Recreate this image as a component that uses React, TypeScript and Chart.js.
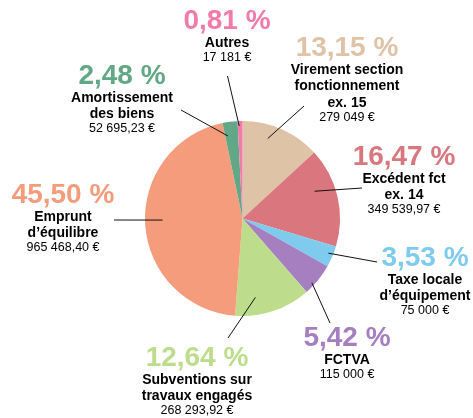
import React, { useEffect, useRef } from "react";
import { Chart, registerables } from "chart.js";

Chart.register(...registerables);

const categories: string[][] = [
  ["Virement section", "fonctionnement", "ex. 15"],
  ["Excédent fct", "ex. 14"],
  ["Taxe locale", "d’équipement"],
  ["FCTVA"],
  ["Subventions sur", "travaux engagés"],
  ["Emprunt", "d’équilibre"],
  ["Amortissement", "des biens"],
  ["Autres"],
];
const values: number[] = [279049, 349539.97, 75000, 115000, 268293.92, 965468.4, 52695.23, 17181];
const percentLabels: string[] = ["13,15 %", "16,47 %", "3,53 %", "5,42 %", "12,64 %", "45,50 %", "2,48 %", "0,81 %"];
const amountLabels: string[] = ["279 049 €", "349 539,97 €", "75 000 €", "115 000 €", "268 293,92 €", "965 468,40 €", "52 695,23 €", "17 181 €"];

const colors = ["#DEC3A6", "#D9767E", "#7FCBEE", "#A57FC0", "#BDDD8D", "#F49C7C", "#62A886", "#F27BAB"];

// label layout: text anchor (center x, percent line center y), leader end point,
// leader start as fraction along slice (t) and fraction of radius (f)
const labelLayout = [
  { x: 347, y: 48, ex: 304, ey: 106, t: 0.37, f: 0.86 },
  { x: 404, y: 157, ex: 362, ey: 188, t: 0.37, f: 0.79 },
  { x: 425, y: 258, ex: 377, ey: 262, t: 0.42, f: 0.95 },
  { x: 347, y: 338, ex: 330, ey: 323, t: 0.69, f: 0.97 },
  { x: 197, y: 358, ex: 228, ey: 338, t: 0.7, f: 0.82 },
  { x: 63, y: 195, ex: 114, ey: 220, t: 0.516, f: 0.82 },
  { x: 122, y: 76, ex: 181, ey: 110, t: 0.2, f: 0.86 },
  { x: 227, y: 21, ex: 227.5, ey: 76, t: 0.3, f: 0.95 },
];

const FONT = '"Liberation Sans", Arial, Helvetica, sans-serif';

const labelPlugin = {
  id: "outerLabels",
  afterDraw(chart: any) {
    const ctx = chart.ctx as CanvasRenderingContext2D;
    const meta = chart.getDatasetMeta(0);
    meta.data.forEach((arc: any, i: number) => {
      const p = arc.getProps(["x", "y", "startAngle", "endAngle", "outerRadius"], true);
      const L = labelLayout[i];
      const a = p.startAngle + (p.endAngle - p.startAngle) * L.t;
      const r = p.outerRadius * L.f;
      const sx = p.x + Math.cos(a) * r;
      const sy = p.y + Math.sin(a) * r;
      ctx.save();
      ctx.strokeStyle = "#111";
      ctx.lineWidth = 1;
      ctx.beginPath();
      ctx.moveTo(sx, sy);
      ctx.lineTo(L.ex, L.ey);
      ctx.stroke();

      ctx.textAlign = "center";
      ctx.textBaseline = "middle";
      ctx.fillStyle = colors[i];
      ctx.font = `bold 28px ${FONT}`;
      ctx.fillText(percentLabels[i], L.x, L.y);
      ctx.fillStyle = "#000";
      ctx.font = `bold 14px ${FONT}`;
      let yy = L.y + 22;
      categories[i].forEach((line) => {
        ctx.fillText(line, L.x, yy);
        yy += 16.5;
      });
      yy -= 2;
      ctx.font = `12.5px ${FONT}`;
      ctx.fillText(amountLabels[i], L.x, yy);
      ctx.restore();
    });
  },
};

export default function App() {
  const ref = useRef<HTMLCanvasElement | null>(null);
  useEffect(() => {
    if (!ref.current) return;
    const chart = new Chart(ref.current, {
      type: "pie",
      data: {
        labels: categories.map((c) => c.join(" ")),
        datasets: [
          {
            data: values,
            backgroundColor: colors,
            borderWidth: 0,
          },
        ],
      },
      options: {
        animation: false,
        responsive: true,
        maintainAspectRatio: false,
        rotation: 0,
        layout: { padding: { left: 145, right: 133, top: 121, bottom: 102 } },
        plugins: {
          legend: { display: false },
          tooltip: { enabled: false },
        },
      },
      plugins: [labelPlugin],
    });
    return () => chart.destroy();
  }, []);
  return (
    <div style={{ position: "fixed", left: 0, top: 0, width: 473, height: 418, background: "#fff" }}>
      <canvas ref={ref} />
    </div>
  );
}
